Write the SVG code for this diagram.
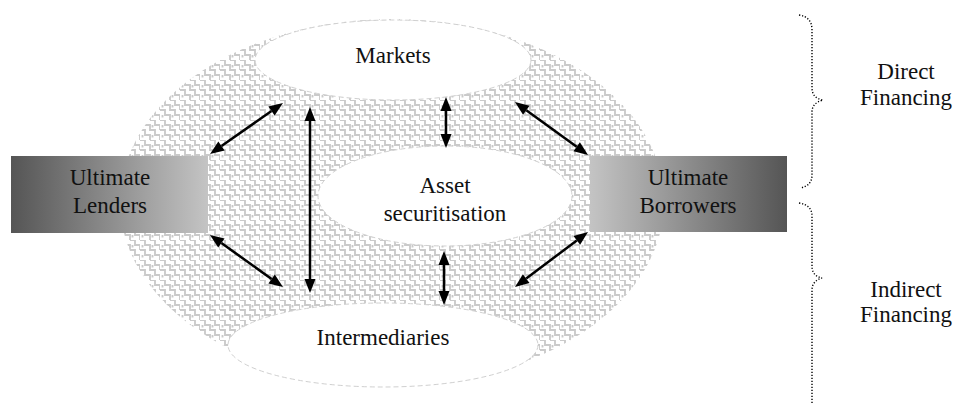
<svg xmlns="http://www.w3.org/2000/svg" width="955" height="403" viewBox="0 0 955 403">
  <defs>
    <style>
      .lbl { font-family: "Liberation Serif", "Times New Roman", serif; font-size: 23px; fill: #111; text-anchor: middle; }
      .hole { fill: #fff; stroke: #d0d0d0; stroke-width: 1; stroke-dasharray: 5 3; }
      .arrow { stroke: #000; stroke-width: 2.5; fill: none; marker-start: url(#head); marker-end: url(#head); }
      .brace { stroke: #000; stroke-width: 1.4; fill: none; stroke-dasharray: 1.2 1.8; }
    </style>
    <!-- woven fret texture for the financial system area -->
    <pattern id="weave" width="16" height="16" patternUnits="userSpaceOnUse" patternTransform="scale(1.25)">
      <rect width="16" height="16" fill="#fff"/>
      <path d="M0 0 H4 V4 H8 V8 H12 V12 H16 V16 M8 0 H12 V4 H16 V8 M0 8 H4 V12 H8 V16 M2 4 V6 M10 12 V14 M10 4 V6 M2 12 V14" stroke="#cacaca" stroke-width="1.5" fill="none"/>
    </pattern>
    <linearGradient id="gLeft" x1="0" y1="0" x2="1" y2="0">
      <stop offset="0" stop-color="#555"/>
      <stop offset="1" stop-color="#c4c4c4"/>
    </linearGradient>
    <linearGradient id="gRight" x1="0" y1="0" x2="1" y2="0">
      <stop offset="0" stop-color="#c4c4c4"/>
      <stop offset="1" stop-color="#555"/>
    </linearGradient>
    <marker id="head" markerUnits="userSpaceOnUse" markerWidth="14" markerHeight="11" refX="0" refY="5.5" orient="auto-start-reverse" overflow="visible">
      <path d="M0,0 L14,5.5 L0,11 z" fill="#000"/>
    </marker>
  </defs>

  <!-- financial system background -->
  <ellipse id="system" cx="392" cy="202" rx="272" ry="183" fill="url(#weave)"/>

  <g id="markets">
    <ellipse class="hole" cx="393" cy="60" rx="138" ry="40"/>
    <text class="lbl" x="393" y="63">Markets</text>
  </g>

  <g id="securitisation">
    <ellipse class="hole" cx="445" cy="196" rx="127" ry="50"/>
    <text class="lbl" x="445" y="193">Asset</text>
    <text class="lbl" x="445" y="221">securitisation</text>
  </g>

  <g id="intermediaries">
    <ellipse class="hole" cx="383" cy="345" rx="155" ry="42"/>
    <text class="lbl" x="383" y="345">Intermediaries</text>
  </g>

  <g id="lenders">
    <rect x="11" y="156" width="197" height="77" fill="url(#gLeft)"/>
    <text class="lbl" x="110" y="185">Ultimate</text>
    <text class="lbl" x="110" y="213">Lenders</text>
  </g>

  <g id="borrowers">
    <rect x="590" y="156" width="197" height="76" fill="url(#gRight)"/>
    <text class="lbl" x="688" y="185">Ultimate</text>
    <text class="lbl" x="688" y="213">Borrowers</text>
  </g>

  <g id="connectors">
    <line class="arrow" x1="221.5" y1="146.0" x2="271.5" y2="111.0"/>
    <line class="arrow" x1="221.4" y1="243.1" x2="271.6" y2="278.9"/>
    <line class="arrow" x1="310" y1="121" x2="310" y2="279"/>
    <line class="arrow" x1="446" y1="111" x2="446" y2="134"/>
    <line class="arrow" x1="444" y1="265" x2="444" y2="291"/>
    <line class="arrow" x1="576.7" y1="146.8" x2="526.3" y2="110.2"/>
    <line class="arrow" x1="576.8" y1="240.4" x2="526.2" y2="278.6"/>
  </g>

  <g id="direct">
    <path class="brace" d="M799,15 Q812,17 812,30 L812,88 Q812,98 823,100 Q812,103 812,112 L812,175 Q812,186 800,188"/>
    <text class="lbl" x="906" y="79">Direct</text>
    <text class="lbl" x="906" y="105">Financing</text>
  </g>

  <g id="indirect">
    <path class="brace" d="M799,203 Q812,205 812,216 L812,266 Q812,276 822,278 Q812,281 812,290 L812,403"/>
    <text class="lbl" x="906" y="297">Indirect</text>
    <text class="lbl" x="906" y="322">Financing</text>
  </g>
</svg>
